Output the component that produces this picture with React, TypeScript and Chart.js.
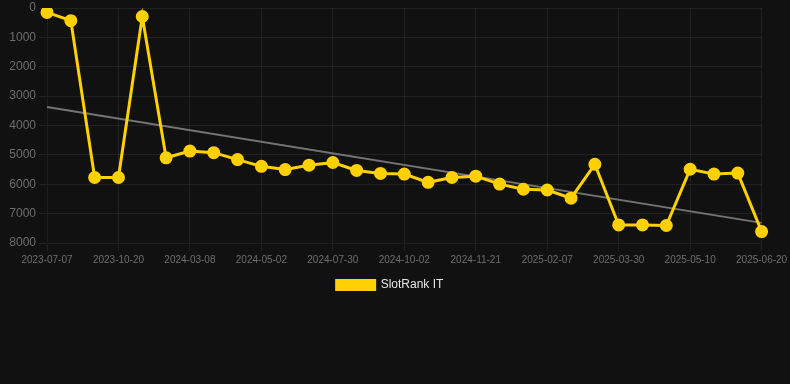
import React, { useEffect, useRef } from "react";
import { Chart, registerables } from "chart.js";

Chart.register(...registerables);

const labels: string[] = [
  "2023-07-07", "2023-08-11", "2023-09-15", "2023-10-20", "2023-12-15", "2024-01-26",
  "2024-03-08", "2024-03-27", "2024-04-14", "2024-05-02", "2024-05-31", "2024-06-29",
  "2024-07-30", "2024-08-20", "2024-09-10", "2024-10-02", "2024-10-19", "2024-11-04",
  "2024-11-21", "2024-12-20", "2025-01-14", "2025-02-07", "2025-02-24", "2025-03-13",
  "2025-03-30", "2025-04-13", "2025-04-26", "2025-05-10", "2025-05-24", "2025-06-06",
  "2025-06-20",
];

const slotRankIT: number[] = [
  150, 430, 5770, 5770, 290, 5100, 4870, 4925, 5160, 5390, 5500, 5350,
  5260, 5530, 5630, 5655, 5935, 5770, 5725, 5995, 6170, 6195, 6475, 5320,
  7385, 7385, 7405, 5490, 5655, 5620, 7610,
];

const trendStart = 3370;
const trendEnd = 7315;

const yTicksMin = 0;
const yTicksMax = 8000;
const yTickStep = 1000;

const FONT = "Arial, 'Liberation Sans', sans-serif";

export default function App() {
  const ref = useRef<HTMLCanvasElement | null>(null);

  useEffect(() => {
    document.body.style.margin = "0";
    document.body.style.background = "#111111";
    if (!ref.current) return;
    const trend = labels.map((_, i) =>
      i === 0 ? trendStart : i === labels.length - 1 ? trendEnd : null
    );
    const chart = new Chart(ref.current, {
      type: "line",
      data: {
        labels,
        datasets: [
          {
            label: "SlotRank IT",
            data: slotRankIT,
            borderColor: "#FFD100",
            backgroundColor: "#FFD100",
            borderWidth: 3,
            pointRadius: 5,
            pointHoverRadius: 5,
            pointBackgroundColor: "#FFD100",
            pointBorderColor: "#FFD100",
            tension: 0,
            order: 1,
          },
          {
            label: "trend",
            data: trend,
            borderColor: "rgba(150,150,150,0.75)",
            backgroundColor: "rgba(150,150,150,0.75)",
            borderWidth: 2,
            pointRadius: 0,
            spanGaps: true,
            order: 2,
          },
        ],
      },
      options: {
        animation: false,
        responsive: true,
        maintainAspectRatio: false,
        layout: { padding: { left: 0, right: 10, top: 0, bottom: 0 } },
        plugins: {
          legend: {
            position: "bottom",
            labels: {
              color: "#e6e6e6",
              font: { size: 12, family: FONT },
              boxWidth: 38,
              boxHeight: 9,
              filter: (item) => item.text !== "trend",
            },
          },
          tooltip: { enabled: false },
        },
        scales: {
          x: {
            grid: { color: "rgba(255,255,255,0.07)" },
            ticks: {
              color: "#6e6e6e",
              maxRotation: 0,
              font: { size: 10, family: FONT },
            },
            afterFit: (scale: any) => {
              scale.paddingRight = 28.4;
            },
          },
          y: {
            reverse: true,
            min: yTicksMin,
            max: yTicksMax,
            grid: { color: "rgba(255,255,255,0.07)" },
            ticks: {
              stepSize: yTickStep,
              color: "#6e6e6e",
              font: { size: 12, family: FONT },
              callback: (v: any) => String(v),
            },
            afterFit: (scale: any) => {
              scale.width = 47;
              scale.paddingTop = 3;
            },
          },
        },
      },
    });
    return () => chart.destroy();
  }, []);

  return (
    <div style={{ width: 790, height: 384, background: "#111111" }}>
      <div style={{ width: 790, height: 301, position: "relative" }}>
        <canvas ref={ref} />
      </div>
    </div>
  );
}
